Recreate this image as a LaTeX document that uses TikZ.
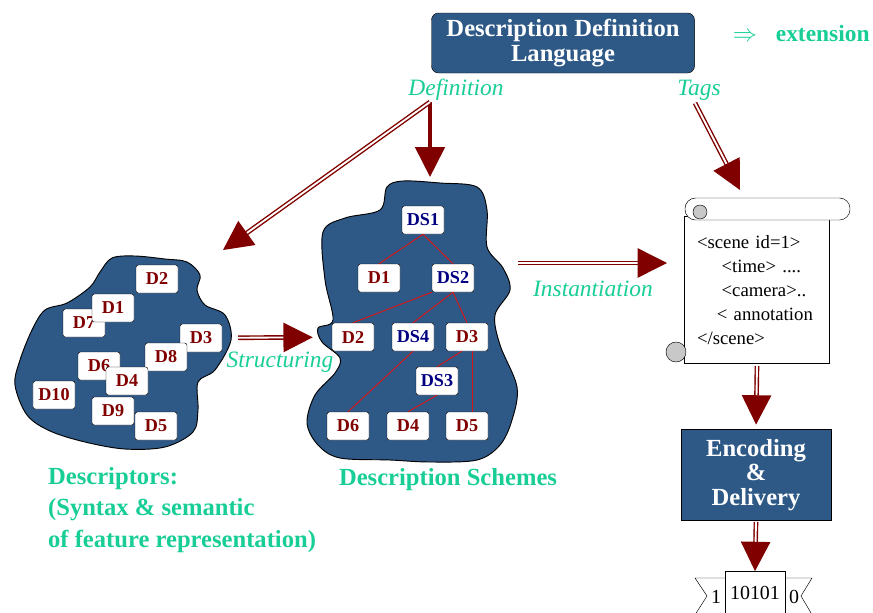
\documentclass[tikz,border=0pt]{standalone}
\usepackage{fontspec}
\setmainfont{Liberation Serif}
\usepackage{xcolor}
\usetikzlibrary{
    positioning,
    arrows.meta
}

\definecolor{blobblue}{RGB}{46,89,135}
\definecolor{dkred}{RGB}{128,0,0}
\definecolor{linkred}{RGB}{215,20,20}
\definecolor{lblgreen}{RGB}{24,206,150}
\definecolor{dsnavy}{RGB}{0,0,128}
\definecolor{curlgrey}{RGB}{200,200,200}

\begin{document}
\begin{tikzpicture}[
    x=0.03cm, y=-0.03cm,
    dbox/.style={
        rectangle,
        rounded corners=2pt,
        draw,
        fill=white,
        minimum width=1.26cm,
        minimum height=0.84cm,
        inner sep=0pt,
        text=dkred,
        font=\fontsize{15.5}{15.5}\selectfont\bfseries
    },
    dsbox/.style={dbox, text=dsnavy},
    bluebox/.style={
        rectangle,
        draw,
        fill=blobblue,
        text=white,
        align=center,
        font=\fontsize{21}{21}\selectfont\bfseries
    },
    blob/.style={draw, fill=blobblue, line width=0.8pt},
    tag/.style={text=lblgreen, font=\fontsize{20}{20}\selectfont\itshape},
    caption/.style={text=lblgreen, align=left, font=\fontsize{21}{27}\selectfont\bfseries},
    scrollbody/.style={
        rectangle,
        draw,
        fill=white,
        minimum width=4.35cm,
        minimum height=4.41cm,
        text width=3.6cm,
        align=left,
        font=\fontsize{16}{20.5}\selectfont
    },
    link/.style={linkred, line width=0.8pt},
    bigarrow/.style={dkred, line width=3.4pt, -{Triangle[length=0.9cm, width=0.88cm]}},
    dblarrow/.style={draw=dkred, double=white, line width=1.2pt, double distance=1.6pt,
        -{Triangle[length=0.88cm, width=0.88cm, fill=dkred]}}
]

\useasboundingbox (0,0) rectangle (873,612);

\node[bluebox, rounded corners=6pt, minimum width=7.89cm, minimum height=1.8cm] (ddl) at (563,43)
    {Description Definition\\[1pt]Language};

\node[caption, font=\fontsize{20}{20}\selectfont\bfseries, anchor=east, inner sep=1pt] (ext) at (871,33)
    {$\Rightarrow$\hspace{0.8em}extension};

\node[tag] (deflbl) at (456,90) {Definition};
\node[tag] (tagslbl) at (699,90) {Tags};

\coordinate (defsrc) at (430,102);
\coordinate (tagsrc) at (695,103);
\coordinate (descin) at (223,250);
\coordinate (dsin) at (430,177);
\coordinate (tagdst) at (740,190);
\coordinate (instsrc) at (518,263);
\coordinate (instdst) at (667,263);

\draw[blob] plot[smooth cycle, tension=0.55] coordinates {
    (32,330) (45,310) (67,303) (90,287) (100,272) (112,258) (135,256) (165,259)
    (187,262) (200,275) (197,290) (205,305) (225,315) (231,340) (215,370)
    (198,382) (198,410) (193,432) (165,447) (125,449) (85,442) (50,431)
    (27,415) (15,385) (20,360)};

\node[dbox] (d2) at (157,279) {D2};
\node[dbox] (d7) at (84,323) {D7};
\node[dbox] (d1) at (113,308) {D1};
\node[dbox] (d3) at (201,338) {D3};
\node[dbox] (d8) at (166,357) {D8};
\node[dbox] (d6) at (99,366) {D6};
\node[dbox] (d4) at (127,381) {D4};
\node[dbox] (d10) at (54,395) {D10};
\node[dbox] (d9) at (113,411) {D9};
\node[dbox] (d5) at (156,426) {D5};

\draw[blob] plot[smooth cycle, tension=0.55] coordinates {
    (387,187) (403,181) (440,183) (477,187) (487,210) (487,247) (503,268)
    (510,290) (495,315) (500,345) (517,387) (512,420) (500,445) (477,460)
    (430,462) (390,460) (340,458) (318,445) (307,423) (315,395) (335,373)
    (340,358) (322,342) (318,328) (333,320) (325,280) (323,232) (345,218)
    (380,210)};

\node[dsbox] (ds1) at (423,220) {DS1};
\node[dbox] (sd1) at (379,278) {D1};
\node[dsbox] (ds2) at (453,278) {DS2};
\node[dbox] (sd2) at (353,337) {D2};
\node[dsbox] (ds4) at (413,337) {DS4};
\node[dbox] (sd3) at (467,337) {D3};
\node[dsbox] (ds3) at (437,381) {DS3};
\node[dbox] (sd6) at (348,426) {D6};
\node[dbox] (sd4) at (408,426) {D4};
\node[dbox] (sd5) at (467,426) {D5};

\draw[link] (ds1.south) -- (sd1.north);
\draw[link] (ds1.south) -- (ds2.north);
\draw[link] (ds2.south west) -- (sd2.north);
\draw[link] (ds2.south) -- (ds4.north);
\draw[link] (ds2.south) -- (sd3.north);
\draw[link] (ds4.south) -- (sd6.north);
\draw[link] (sd3.-110) -- (ds3.north);
\draw[link] (sd3.-70) -- (sd5.70);
\draw[link] (ds3.south) -- (sd4.north);

\node[caption, anchor=north west] (desccap) at (44,463)
    {Descriptors:\\(Syntax \& semantic\\of feature representation)};
\node[caption] (dscap) at (448,480) {Description Schemes};

\node[scrollbody] (scroll) at (757,290)
    {<scene id=1>\\
     \hspace*{21pt}<time> ....\\
     \hspace*{21pt}<camera>..\\
     \hspace*{17pt}< annotation\\
     </scene>};
\draw[fill=white, rounded corners=9pt] (685,198) rectangle (850,220);
\draw[fill=curlgrey] (700,212) circle (7);
\draw[fill=curlgrey] (676,352) circle (10);

\node[bluebox, minimum width=4.5cm, minimum height=2.73cm] (enc) at (756,475)
    {Encoding\\\&\\Delivery};

\draw (725,578) -- (695,578) -- (707,596) -- (693,618);
\draw (785,578) -- (812,578) -- (801,596) -- (814,618);
\node[draw, fill=white, minimum width=1.8cm, minimum height=1.3cm,
    font=\fontsize{17}{17}\selectfont] (bits) at (755,593) {10101};
\node[font=\fontsize{17}{17}\selectfont] (one) at (716,597) {1};
\node[font=\fontsize{17}{17}\selectfont] (zero) at (794,597) {0};

\node[tag] (structlbl) at (280,362) {Structuring};
\node[tag] (instlbl) at (593,289) {Instantiation};

\draw[bigarrow] (defsrc) -- (dsin);
\draw[dblarrow] (defsrc) -- (descin);
\draw[dblarrow] (tagsrc) -- (tagdst);
\draw[dblarrow] (instsrc) -- (instdst);
\draw[dblarrow, shorten <=0.48cm, shorten >=0.57cm] (d3) -- (sd2);
\draw[dblarrow, shorten <=2pt, shorten >=4pt] (scroll.south) -- (enc.north);
\draw[dblarrow, shorten <=1pt] (enc.south) -- (bits.north);

\end{tikzpicture}
\end{document}
